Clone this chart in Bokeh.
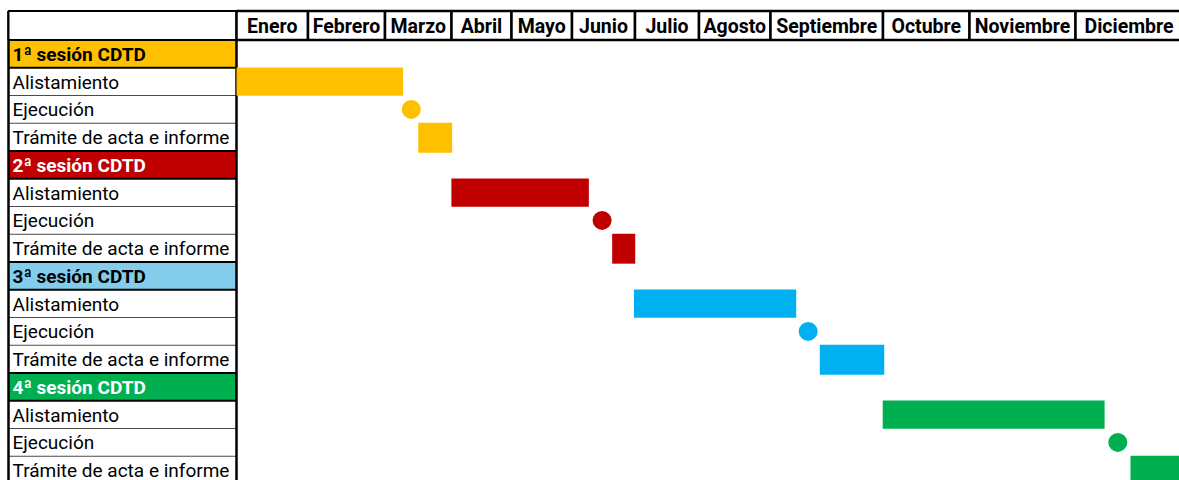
from bokeh.plotting import figure
from bokeh.models import Range1d
from bokeh.core.properties import value
from bokeh.embed import file_html
from bokeh.resources import INLINE

# ---------------- data ----------------
months = ["Enero", "Febrero", "Marzo", "Abril", "Mayo", "Junio", "Julio",
          "Agosto", "Septiembre", "Octubre", "Noviembre", "Diciembre"]
sessions = ["1ª sesión CDTD", "2ª sesión CDTD", "3ª sesión CDTD", "4ª sesión CDTD"]
activities = ["Alistamiento", "Ejecución", "Trámite de acta e informe"]

# day of year (0 = 1 de enero)
alist_start = [0.0, 83.0, 153.5, 249.6]
alist_end = [64.3, 136.1, 216.2, 335.3]
ejec_day = [67.5, 141.2, 220.8, 340.4]
tram_start = [70.2, 145.1, 225.3, 345.3]
tram_end = [83.3, 154.0, 250.2, 365.0]

bar_colors = ["#FFC000", "#C00000", "#00B0F0", "#00B050"]
head_fill = ["#FFC000", "#C00000", "#83CCEB", "#00B050"]
head_text = ["#000000", "#FFFFFF", "#000000", "#FFFFFF"]

# ---------------- layout (page pixels -> data units) ----------------
X0, K = 236.0, 2.589          # px of day 0, px per day
Y0, RH = 39.5, 27.75          # px of first body row, px per row
def fx(px):
    return (px - X0) / K
def fy(px):
    return (px - Y0) / RH

col_edges_px = [236, 307.5, 384.5, 451, 511, 571.5, 634.5, 698.5, 770,
                882.5, 969, 1075, 1182]
TL, TR = 8.0, 236.0            # left table x extent (px)
HT = 10.5                      # header top (px)
NROWS = 16

FONT = value("Roboto")

p = figure(width=1179, height=480,
           x_range=Range1d(fx(0), fx(1179)),
           y_range=Range1d(fy(480), fy(0)),
           output_backend="svg", toolbar_location=None,
           x_axis_type=None, y_axis_type=None,
           min_border=0, min_border_left=0, min_border_right=0,
           min_border_top=0, min_border_bottom=0,
           outline_line_color=None, background_fill_color="white",
           border_fill_color="white")
p.grid.visible = False

# ---- left table cell fills ----
row_fill = []
row_lab = []
row_col = []
row_bold = []
for s in range(4):
    row_fill.append(head_fill[s]); row_lab.append(sessions[s]); row_col.append(head_text[s]); row_bold.append(True)
    for a in activities:
        row_fill.append("#FFFFFF"); row_lab.append(a); row_col.append("#000000"); row_bold.append(False)

p.quad(left=[fx(TL)] * NROWS, right=[fx(TR)] * NROWS,
       top=list(range(NROWS)), bottom=[i + 1 for i in range(NROWS)],
       fill_color=row_fill, line_color=None)

# thin row separators
thin_y = [i for i in range(1, NROWS + 1) if i % 4 != 0 and (i - 1) % 4 != 0]
p.segment(x0=[fx(TL)] * len(thin_y), x1=[fx(TR)] * len(thin_y),
          y0=thin_y, y1=thin_y, line_color="#4a4a4a", line_width=1)
# thick separators around session headers
thick_y = sorted(set([i for i in range(NROWS + 1) if i % 4 == 0] + [i + 1 for i in range(0, NROWS, 4)]))
p.segment(x0=[fx(TL)] * len(thick_y), x1=[fx(TR)] * len(thick_y),
          y0=thick_y, y1=thick_y, line_color="#000000", line_width=2)
# vertical borders of left table
p.segment(x0=[fx(TL), fx(TR)], x1=[fx(TL), fx(TR)],
          y0=[fy(HT)] * 2, y1=[fy(480)] * 2, line_color="#000000", line_width=2.5)

# ---- header row ----
p.quad(left=[fx(TL)], right=[fx(TR)], top=[fy(HT)], bottom=[0],
       fill_color="white", line_color="black", line_width=2)
lefts = [fx(v) for v in col_edges_px[:-1]]
rights = [fx(v) for v in col_edges_px[1:]]
p.quad(left=lefts, right=rights, top=[fy(HT)] * 12, bottom=[0] * 12,
       fill_color="white", line_color="black", line_width=2.5)
p.text(x=[(a + b) / 2 for a, b in zip(lefts, rights)], y=[fy(HT + 1.0) / 2] * 12,
       text=months, text_font=FONT, text_font_style="bold",
       text_font_size="19.5px", text_align="center", text_baseline="middle",
       text_color="#000000")

# ---- row labels ----
rows_norm = [i for i in range(NROWS) if not row_bold[i]]
rows_bold = [i for i in range(NROWS) if row_bold[i]]
p.text(x=[fx(12)] * len(rows_norm), y=[i + 0.52 for i in rows_norm],
       text=[row_lab[i] for i in rows_norm], text_color=[row_col[i] for i in rows_norm],
       text_font=FONT, text_font_size="19px", text_baseline="middle")
p.text(x=[fx(12)] * len(rows_bold), y=[i + 0.52 for i in rows_bold],
       text=[row_lab[i] for i in rows_bold], text_color=[row_col[i] for i in rows_bold],
       text_font=FONT, text_font_style="bold", text_font_size="19px",
       text_baseline="middle")

# ---- gantt marks ----
alist_rows = [4 * s + 1.5 for s in range(4)]
ejec_rows = [4 * s + 2.5 for s in range(4)]
tram_rows = [4 * s + 3.52 for s in range(4)]

p.hbar(y=alist_rows, left=alist_start, right=alist_end, height=1.02,
       fill_color=bar_colors, line_color=None)
p.hbar(y=tram_rows, left=tram_start, right=tram_end, height=1.08,
       fill_color=bar_colors, line_color=None)
p.scatter(x=ejec_day, y=ejec_rows, size=19, marker="circle",
          fill_color=bar_colors, line_color=None)

open("out.html", "w").write(file_html(p, INLINE))
